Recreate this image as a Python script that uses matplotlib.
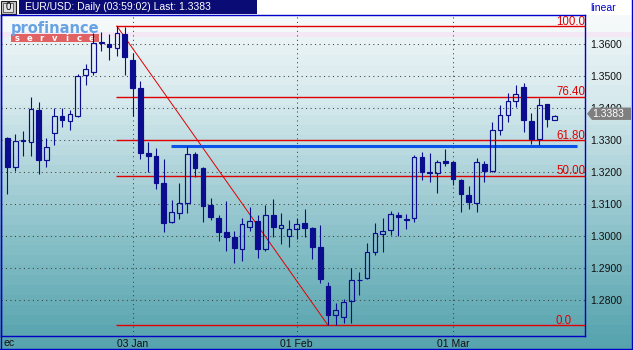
import matplotlib
matplotlib.use('Agg')
import matplotlib.pyplot as plt
import matplotlib.transforms as mtransforms
from matplotlib.patches import Rectangle, Polygon
import numpy as np

plt.rcParams['font.family'] = ['Liberation Sans', 'DejaVu Sans']

# ---------------- data (EUR/USD daily candles) ----------------
opens = [1.3307, 1.3216, 1.3301, 1.3296, 1.3395, 1.3238, 1.3322, 1.3377, 1.3361, 1.3376,
         1.3503, 1.3514, 1.3604, 1.3601, 1.3587, 1.3632, 1.3551, 1.3463, 1.3259, 1.3251,
         1.3166, 1.3046, 1.3074, 1.3103, 1.3258, 1.3214, 1.3098, 1.3056, 1.3012, 1.2997,
         1.2961, 1.3030, 1.3049, 1.2959, 1.3066, 1.3025, 1.3002, 1.3022, 1.3042, 1.3027,
         1.2966, 1.2845, 1.2755, 1.2749, 1.2798, 1.2862, 1.2871, 1.2950, 1.3006, 1.3019,
         1.3067, 1.3050, 1.3056, 1.3247, 1.3201, 1.3197, 1.3235, 1.3231, 1.3176, 1.3128,
         1.3103, 1.3226, 1.3203, 1.3331, 1.3379, 1.3423, 1.3467, 1.3360, 1.3303, 1.3412,
         1.3364]
highs = [1.3311, 1.3320, 1.3329, 1.3434, 1.3421, 1.3306, 1.3400, 1.3400, 1.3395, 1.3507,
         1.3538, 1.3634, 1.3638, 1.3633, 1.3657, 1.3653, 1.3574, 1.3485, 1.3294, 1.3276,
         1.3241, 1.3113, 1.3166, 1.3282, 1.3264, 1.3218, 1.3119, 1.3067, 1.3110, 1.3017,
         1.3056, 1.3091, 1.3067, 1.3098, 1.3117, 1.3072, 1.3051, 1.3057, 1.3085, 1.3030,
         1.3035, 1.2856, 1.2791, 1.2804, 1.2900, 1.2888, 1.2980, 1.3041, 1.3056, 1.3079,
         1.3076, 1.3070, 1.3253, 1.3264, 1.3259, 1.3238, 1.3273, 1.3235, 1.3178, 1.3157,
         1.3244, 1.3236, 1.3358, 1.3410, 1.3447, 1.3473, 1.3478, 1.3386, 1.3433, 1.3415,
         1.3380]
lows = [1.3131, 1.3205, 1.3251, 1.3251, 1.3195, 1.3218, 1.3285, 1.3343, 1.3332, 1.3372,
        1.3473, 1.3504, 1.3580, 1.3550, 1.3563, 1.3504, 1.3377, 1.3241, 1.3202, 1.3147,
        1.3014, 1.3043, 1.3055, 1.3074, 1.3184, 1.3046, 1.3051, 1.2986, 1.2955, 1.2916,
        1.2924, 1.3018, 1.2933, 1.2955, 1.2999, 1.2975, 1.2966, 1.2991, 1.2999, 1.2929,
        1.2855, 1.2722, 1.2722, 1.2730, 1.2728, 1.2817, 1.2866, 1.2942, 1.2950, 1.3004,
        1.3002, 1.3023, 1.3046, 1.3176, 1.3169, 1.3136, 1.3221, 1.3160, 1.3077, 1.3085,
        1.3077, 1.3171, 1.3202, 1.3318, 1.3358, 1.3405, 1.3327, 1.3288, 1.3285, 1.3343,
        1.3364]
closes = [1.3218, 1.3298, 1.3297, 1.3397, 1.3238, 1.3278, 1.3377, 1.3363, 1.3381, 1.3502,
          1.3522, 1.3603, 1.3606, 1.3593, 1.3634, 1.3559, 1.3464, 1.3261, 1.3252, 1.3168,
          1.3041, 1.3077, 1.3103, 1.3256, 1.3215, 1.3096, 1.3061, 1.3014, 1.2999, 1.2964,
          1.3038, 1.3049, 1.2961, 1.3066, 1.3028, 1.3034, 1.3022, 1.3038, 1.3027, 1.2968,
          1.2866, 1.2755, 1.2770, 1.2794, 1.2863, 1.2864, 1.2950, 1.3009, 1.3016, 1.3069,
          1.3061, 1.3055, 1.3247, 1.3202, 1.3199, 1.3233, 1.3230, 1.3178, 1.3131, 1.3106,
          1.3231, 1.3205, 1.3332, 1.3379, 1.3424, 1.3444, 1.3364, 1.3303, 1.3410, 1.3367,
          1.3376]

date_tick_idx = [16, 37, 57]
date_tick_labels = ['03 Jan', '01 Feb', '01 Mar']
price_ticks = [1.28, 1.29, 1.30, 1.31, 1.32, 1.33, 1.34, 1.35, 1.36]
price_tick_labels = ['1.2800', '1.2900', '1.3000', '1.3100', '1.3200',
                     '1.3300', '1.3400', '1.3500', '1.3600']
fib_levels = [0.0, 50.0, 61.8, 76.4, 100.0]
fib_labels = ['0.0', '50.00', '61.80', '76.40', '100.00']
fib_high_idx = 14
fib_low_idx = 41
support_level = 1.3282
support_start, support_end = 20.9, 72.9
last_price = 1.3383
title_text = 'EUR/USD: Daily (03:59:02) Last: 1.3383'

# ---------------- figure ----------------
W, H = 633, 350
fig = plt.figure(figsize=(W / 100, H / 100), dpi=100)

def fx(px):
    return px / W

def fy(py):
    return 1 - py / H

# background gradient
bg = fig.add_axes([0, 0, 1, 1])
bg.axis('off')
ys = np.arange(H) + 0.5
stops_y = [15, 31, 38, 100, 175, 250, 335, 350]
stops_c = np.array([(247, 250, 251), (243, 248, 249), (234, 243, 245), (214, 233, 237),
                    (172, 211, 217), (130, 189, 197), (90, 165, 176), (86, 162, 173)]) / 255.0
band = np.floor((ys - 15) / 10) * 10 + 20
cols = np.stack([np.interp(band, stops_y, stops_c[:, k]) for k in range(3)], axis=-1)
cols[ys < 15] = 1.0
cols[(ys >= 32) & (ys < 37)] = np.array((244, 232, 244)) / 255.0
bg.imshow(cols[:, None, :], extent=[0, W, H, 0], aspect='auto', interpolation='nearest')
bg.set_xlim(0, W)
bg.set_ylim(H, 0)

# title bar
bg.add_patch(Rectangle((19, 0), 238, 13.7, fc='#0b0b76', ec='none'))
bg.add_patch(Rectangle((0.5, 0.5), 15, 13, fc='#c8c8c8', ec='#202020', lw=0.8))
bg.add_patch(Rectangle((3, 2.5), 10, 9, fc='#e4e4e4', ec='#505050', lw=0.6))
bg.text(8, 7.3, '0', ha='center', va='center', fontsize=7, color='black')
fig.text(fx(25), fy(7), title_text, color='white', fontsize=7.5, va='center', ha='left')
fig.text(fx(590), fy(8), 'linear', color='#0000cc', fontsize=7.5, va='center', ha='left')

# logo
bg.text(11, 32.5, 'profinance', fontsize=10.5, fontweight='bold', color='#68a2e4',
        family='DejaVu Sans', ha='left', va='baseline')
bg.add_patch(Rectangle((11, 34.3), 88, 8, fc='#e06262', ec='none'))
for k, ch in enumerate('service'):
    bg.text(17 + 12.4 * k, 38.5, ch, fontsize=6, fontweight='bold', color='white',
            ha='center', va='center', family='DejaVu Sans')

# outer frame lines
bg.plot([0.7, 0.7], [15, 350], color='#0000c8', lw=1.0)
bg.plot([0, W], [349.3, 349.3], color='#0000c8', lw=1.0)
bg.plot([632.3, 632.3], [0, 350], color='#0000c8', lw=1.0)

# ---------------- main axes ----------------
ax = fig.add_axes([fx(1), fy(335.5), (585 - 1) / W, (335.5 - 15) / H])
ax.set_facecolor('none')
xmin = -0.818
xmax = xmin + 584 / 7.82
ax.set_xlim(xmin, xmax)
ax.set_ylim(1.36 - (335.5 - 44.3) / 3200, 1.36 + (44.3 - 15) / 3200)

for s in ax.spines.values():
    s.set_color('#0000c8')
    s.set_linewidth(1.0)

ax.set_xticks(date_tick_idx)
ax.set_xticklabels(date_tick_labels)
ax.set_yticks(price_ticks)
ax.set_yticklabels(price_tick_labels)
ax.yaxis.tick_right()
ax.tick_params(axis='x', length=0, pad=2.5, labelsize=7.5, labelcolor='#101010')
ax.tick_params(axis='y', length=0, pad=3.6, labelsize=7.5, labelcolor='#101010')
ax.set_axisbelow(True)
ax.grid(True, color='#404040', linestyle=(0, (1, 3.3)), linewidth=0.75)

fig.text(fx(3), fy(342.5), 'ec', fontsize=7.5, ha='left', va='center', color='#101010')

# fibonacci
fib_hi = highs[fib_high_idx]
fib_lo = lows[fib_low_idx]
red = '#e00000'
lbl_tr = mtransforms.offset_copy(ax.transData, fig=fig, x=0, y=1.2, units='dots')
lbl_x = (556 - 7.4) / 7.82
for lev, lab in zip(fib_levels, fib_labels):
    p = fib_lo + (fib_hi - fib_lo) * lev / 100.0
    ax.hlines(p, fib_high_idx - 0.05, xmax, color=red, lw=1.0, zorder=3)
    t = ax.text(lbl_x, p, lab, transform=lbl_tr, color=red, fontsize=8.3,
                ha='left', va='baseline', zorder=3)
    t.set_clip_on(True)
ax.plot([fib_high_idx, fib_low_idx], [fib_hi, fib_lo], color=red, lw=0.7, zorder=3)

# support line
ax.hlines(support_level, support_start, support_end, color='#0a52e8', lw=2.2, zorder=3)

# candles
cc = '#0c0c8e'
bw = 0.6
for i, (o, h, l, c) in enumerate(zip(opens, highs, lows, closes)):
    top, bot = max(o, c), min(o, c)
    if c >= o:
        ax.vlines(i, top, h, color=cc, lw=0.8, zorder=4)
        ax.vlines(i, l, bot, color=cc, lw=0.8, zorder=4)
        ax.add_patch(Rectangle((i - bw / 2, bot), bw, max(top - bot, 0.00005),
                               fc='none', ec=cc, lw=0.85, zorder=4))
    else:
        ax.vlines(i, l, h, color=cc, lw=0.8, zorder=4)
        ax.add_patch(Rectangle((i - bw / 2, bot), bw, max(top - bot, 0.00005),
                               fc=cc, ec=cc, lw=0.85, zorder=4))

# last price tag
tr = mtransforms.blended_transform_factory(ax.transAxes, ax.transData)
aw = 584.0
hh = 6.2 / 3200
tag = Polygon([(1 + 2 / aw, last_price), (1 + 7 / aw, last_price + hh),
               (1 + 46 / aw, last_price + hh), (1 + 46 / aw, last_price - hh),
               (1 + 7 / aw, last_price - hh)], closed=True, transform=tr,
              fc='#7f7f7f', ec='none', zorder=6, clip_on=False)
ax.add_patch(tag)
ax.text(1 + 7 / aw, last_price, f'{last_price:.4f}', transform=tr, color='white',
        fontsize=7.5, ha='left', va='center', zorder=7, clip_on=False)

fig.savefig('out.png', dpi=100)
